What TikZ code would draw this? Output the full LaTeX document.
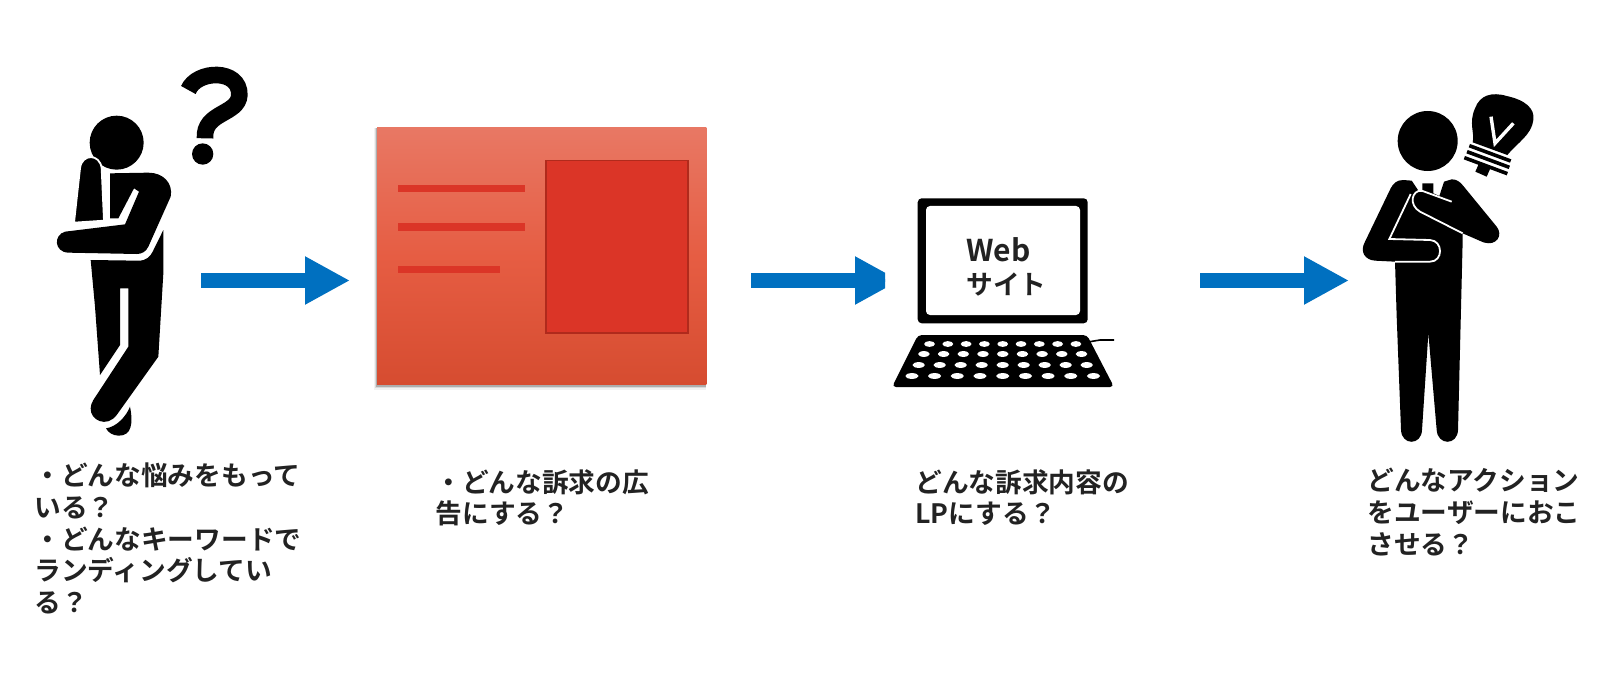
\documentclass[tikz,border=0pt]{standalone}
\usepackage{fontspec}
\usetikzlibrary{arrows.meta}
\newfontfamily\jpfont{Noto Sans CJK JP}[BoldFont={Noto Sans CJK JP Bold}]
\definecolor{arrowblue}{HTML}{0070C0}
\definecolor{inkc}{HTML}{222222}
\definecolor{cardtop}{HTML}{E87864}
\definecolor{cardmid}{HTML}{E65D43}
\definecolor{cardbot}{HTML}{D64C30}
\definecolor{cardred}{HTML}{DB3527}
\definecolor{cardedge}{HTML}{B02A1C}
\tikzset{
  caption/.style={anchor=north west,inner sep=0pt,align=left,text=inkc,
    font=\jpfont\bfseries\fontsize{13.35pt}{15.85pt}\selectfont},
  fatarrow/.style={draw=arrowblue,line width=7.5pt,-{Triangle[length=22.5pt,width=22.5pt]}},
  ink/.style={fill=black,draw=none},
  cutout/.style={draw=white,line width=.9pt},
  bar/.style={fill=cardred,draw=none},
  zoomed/.style={x=0.166667pt,y=-0.166667pt}
}
\begin{document}
\begin{tikzpicture}[x=0.5pt,y=-0.5pt]
\useasboundingbox (0,0) rectangle (1620,700);
\fill[white] (0,0) rectangle (1620,700);

% thinking person
\begin{scope}[shift={(0,40)},zoomed]
  \fill[ink] (350,308) circle[radius=81];
  \fill[ink] (272,660) -- (415,662) .. controls (440,662) and (450,650) .. (458,635) -- (490,570) -- (490,700) -- (475,950)
     -- (350,1125) .. controls (320,1165) and (270,1140) .. (272,1105) .. controls (272,1095) and (275,1090) .. (280,1080)
     -- (385,920) -- (385,745) -- (360,745) -- (360,915) -- (300,1005) -- (285,800) -- cycle;
  \fill[ink] (318,1165) .. controls (350,1160) and (378,1130) .. (390,1100) .. controls (400,1150) and (395,1188) .. (355,1187) .. controls (338,1186) and (325,1178) .. (318,1165) -- cycle;
  \fill[ink] (330,400) -- (445,398) .. controls (490,398) and (520,430) .. (512,470) -- (445,620) .. controls (438,635) and (425,642) .. (410,642)
     -- (205,638) .. controls (162,636) and (160,585) .. (195,575) -- (375,553) -- (417,455) -- (402,445) -- (355,535) -- (330,535) -- cycle;
  \draw[white,line width=.9pt,fill=black] (222,548) -- (240,385) .. controls (245,340) and (300,340) .. (305,385) -- (312,542) -- cycle;
  \draw[black,line width=8.3pt] (565,150) .. controls (590,90) and (720,85) .. (718,165) .. controls (715,225) and (610,215) .. (615,295);
  \fill[ink] (608,342) circle[radius=32];
\end{scope}

% advertisement card
\foreach \g/\o in {5/.05,3.5/.1,2/.2}{
  \fill[black,opacity=\o] (377-\g*.6,128) rectangle (705.5,384.5+\g);
}
\node[draw=none,minimum width=164.25pt,minimum height=128.25pt,inner sep=0pt,anchor=north west] (card) at (377,127.5) {};
\shade[top color=cardtop,bottom color=cardbot,middle color=cardmid] (card.north west) rectangle (card.south east);
\fill[bar] (398,185.3) rectangle (525,192.3);
\fill[bar] (398,223.3) rectangle (525,230.7);
\fill[bar] (398,265.7) rectangle (500,273);
\filldraw[fill=cardred,draw=cardedge,line width=.8pt] (545.7,160.7) rectangle (687.7,333);

% computer
\filldraw[fill=black,draw=none,rounded corners=2pt] (917.7,198.3) rectangle (1087.7,323.3);
\fill[white,rounded corners=2pt] (926,206) rectangle (1080,315);
\node[inner sep=0pt,anchor=base west,text=inkc,font=\jpfont\bfseries\fontsize{15pt}{15.85pt}\selectfont] (webt) at (966,261) {Web};
\node[inner sep=0pt,anchor=base west,text=inkc,font=\jpfont\bfseries\fontsize{13.35pt}{15.85pt}\selectfont] (sitet) at (966,294) {サイト};
\fill[ink,rounded corners=2pt] (918,335) -- (1087,335) -- (1114,387) -- (892,387) -- cycle;
\draw[black,line width=.8pt] (1088,342) -- (1100,340) -- (1114,340);
\foreach \y/\p/\r in {344/18.3/5.4,354/19.7/5.8,365/21/6.2,376/22.7/6.6}{
  \foreach \k in {-4,...,4}{
    \fill[white] (1002.7+\k*\p,\y) ellipse[x radius=\r,y radius=2.9];
  }
}

% person with idea
\begin{scope}[shift={(1300,70)},zoomed]
  \fill[ink] (383,213) circle[radius=90];
  \fill[ink] (335,332) -- (310,330) .. controls (290,330) and (280,340) .. (272,355) -- (195,515) .. controls (178,545) and (195,570) .. (225,572)
     -- (285,575) -- (290,740) -- (303,1080) .. controls (305,1127) and (364,1127) .. (366,1080) -- (385,790)
     -- (410,1080) .. controls (413,1127) and (472,1127) .. (474,1080) -- (488,510) -- (488,490) -- (550,517) .. controls (590,530) and (610,495) .. (590,470) -- (490,348) .. controls (480,335) and (470,328) .. (455,328)
     -- (432,335) -- (418,378) -- (400,370) -- (400,340) -- (367,340) -- (367,366) -- (358,366) -- cycle;
  \draw[cutout] (332,372) -- (268,507) -- (390,510) .. controls (430,512) and (430,575) .. (390,575) -- (285,575);
  \draw[cutout] (455,395) -- (365,362) .. controls (335,360) and (325,405) .. (360,425) -- (488,490);
\end{scope}
\begin{scope}[shift={(1430,80)},zoomed]
  \fill[ink] (128,187) .. controls (135,160) and (115,130) .. (135,85) .. controls (150,45) and (185,35) .. (230,48)
     .. controls (285,60) and (315,85) .. (310,120) .. controls (305,165) and (260,190) .. (232,225) -- cycle;
  \draw[black,line width=1.8pt] (118,197) -- (242,243);
  \draw[black,line width=1.8pt] (111,215) -- (238,262);
  \draw[black,line width=1.8pt] (103,233) -- (232,281);
  \fill[ink] (147,250) -- (136,275) -- (170,290) -- (181,265) -- cycle;
  \draw[white,line width=1.7pt] (183,110) -- (195,190) -- (250,130);
\end{scope}

% arrows
\coordinate (a1s) at (201,280.5); \coordinate (a1e) at (350,280.5);
\coordinate (a2s) at (751,280.5); \coordinate (a2e) at (900,280.5);
\coordinate (a3s) at (1200,280.5); \coordinate (a3e) at (1349,280.5);
\draw[fatarrow] (a1s) -- (a1e);
\begin{scope}
  \clip (745,250) rectangle (885,310);
  \draw[fatarrow] (a2s) -- (a2e);
\end{scope}
\draw[fatarrow] (a3s) -- (a3e);

% captions
\node[caption] (c1) at (34,462.5) {・どんな悩みをもって\\いる？\\・どんなキーワードで\\ランディングしてい\\る？};
\node[caption] (c2) at (435,469) {・どんな訴求の広\\告にする？};
\node[caption] (c3) at (915,469) {どんな訴求内容の\\LPにする？};
\node[caption] (c4) at (1367,468) {どんなアクション\\をユーザーにおこ\\させる？};
\end{tikzpicture}
\end{document}
